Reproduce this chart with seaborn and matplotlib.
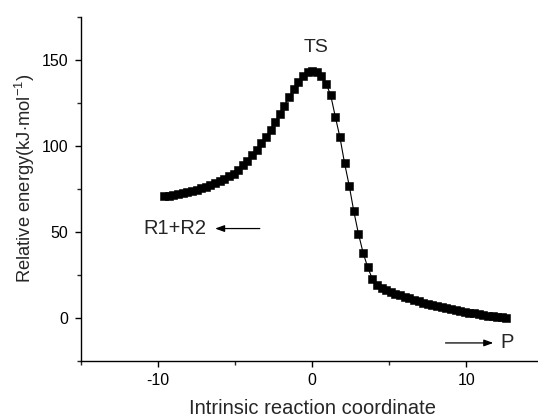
import matplotlib
matplotlib.use("Agg")
import matplotlib.pyplot as plt
from matplotlib.ticker import MultipleLocator
import pandas as pd
import seaborn as sns

# ----------------------------
# Data
# ----------------------------
irc_x = [-9.6, -9.3, -9.0, -8.7, -8.4, -8.1, -7.8, -7.5, -7.2, -6.9,
         -6.6, -6.3, -6.0, -5.7, -5.4, -5.1, -4.8, -4.5, -4.2, -3.9,
         -3.6, -3.3, -3.0, -2.7, -2.4, -2.1, -1.8, -1.5, -1.2, -0.9,
         -0.6, -0.3, 0.0, 0.3, 0.6, 0.9, 1.2, 1.5, 1.8, 2.1,
         2.4, 2.7, 3.0, 3.3, 3.6, 3.9, 4.2, 4.5, 4.8, 5.1,
         5.4, 5.7, 6.0, 6.3, 6.6, 6.9, 7.2, 7.5, 7.8, 8.1,
         8.4, 8.7, 9.0, 9.3, 9.6, 9.9, 10.2, 10.5, 10.8, 11.1,
         11.4, 11.7, 12.0, 12.3, 12.6]
energy = [70.7, 71.0, 71.4, 72.0, 72.7, 73.3, 73.9, 74.6, 75.3, 76.2,
          77.2, 78.3, 79.6, 81.0, 82.5, 84.0, 86.3, 88.8, 91.4, 94.5,
          97.7, 101.5, 105.5, 109.5, 114.0, 118.7, 123.5, 128.5, 133.0, 137.0,
          140.5, 142.8, 143.7, 143.0, 140.5, 136.3, 129.5, 117.0, 105.0, 90.0,
          77.0, 62.0, 49.0, 38.0, 29.5, 22.8, 19.0, 17.6, 16.4, 15.2,
          14.2, 13.3, 12.4, 11.6, 10.7, 9.8, 9.0, 8.3, 7.6, 7.0,
          6.4, 5.8, 5.1, 4.5, 4.0, 3.5, 3.1, 2.7, 2.3, 1.9,
          1.4, 1.0, 0.6, 0.3, 0.0]

df = pd.DataFrame({"x": irc_x, "E": energy})

# ----------------------------
# Style
# ----------------------------
sns.set_style("ticks")
plt.rcParams["font.family"] = ["Liberation Sans", "DejaVu Sans"]
plt.rcParams["mathtext.fontset"] = "custom"
plt.rcParams["mathtext.rm"] = "Liberation Sans"
plt.rcParams["axes.unicode_minus"] = False

fig = plt.figure(figsize=(5.38, 4.17), dpi=100)
ax = fig.add_axes([0.1506, 0.1343, 0.8594, 0.8250])

sns.lineplot(data=df, x="x", y="E", ax=ax, color="black", linewidth=0.8,
             marker="s", markersize=5.2, markeredgecolor="black",
             markeredgewidth=0.4, sort=False, estimator=None)

ax.set_xlim(-15, 15)
ax.set_ylim(-25, 175)
ax.xaxis.set_major_locator(MultipleLocator(10))
ax.xaxis.set_minor_locator(MultipleLocator(5))
ax.yaxis.set_major_locator(MultipleLocator(50))
ax.yaxis.set_minor_locator(MultipleLocator(25))
ax.tick_params(which="major", direction="out", length=4, width=1,
               labelsize=11.5, pad=5, colors="black")
ax.tick_params(which="minor", direction="out", length=3, width=1)
sns.despine(ax=ax)
for side in ["left", "bottom"]:
    ax.spines[side].set_linewidth(1)
    ax.spines[side].set_color("black")

ax.set_xlabel("Intrinsic reaction coordinate", fontsize=14.5)
ax.set_ylabel("Relative energy(kJ$\\cdot$mol$^{-1}$)", fontsize=13.2)
ax.xaxis.set_label_coords(0.5, -0.11)
ax.yaxis.set_label_coords(-0.095, 0.53)

# annotations
arrow_style = dict(arrowstyle="-|>,head_length=0.55,head_width=0.2",
                   color="black", lw=0.9, shrinkA=0, shrinkB=0)
ax.text(0.25, 157.5, "TS", fontsize=14, ha="center", va="center")
ax.text(-8.9, 52, "R1+R2", fontsize=14.5, ha="center", va="center")
ax.annotate("", xy=(-6.3, 52), xytext=(-3.4, 52), arrowprops=arrow_style)
ax.annotate("", xy=(11.75, -14.5), xytext=(8.65, -14.5), arrowprops=arrow_style)
ax.text(12.65, -14.5, "P", fontsize=14.5, ha="center", va="center")

fig.savefig("out.png", dpi=100)
